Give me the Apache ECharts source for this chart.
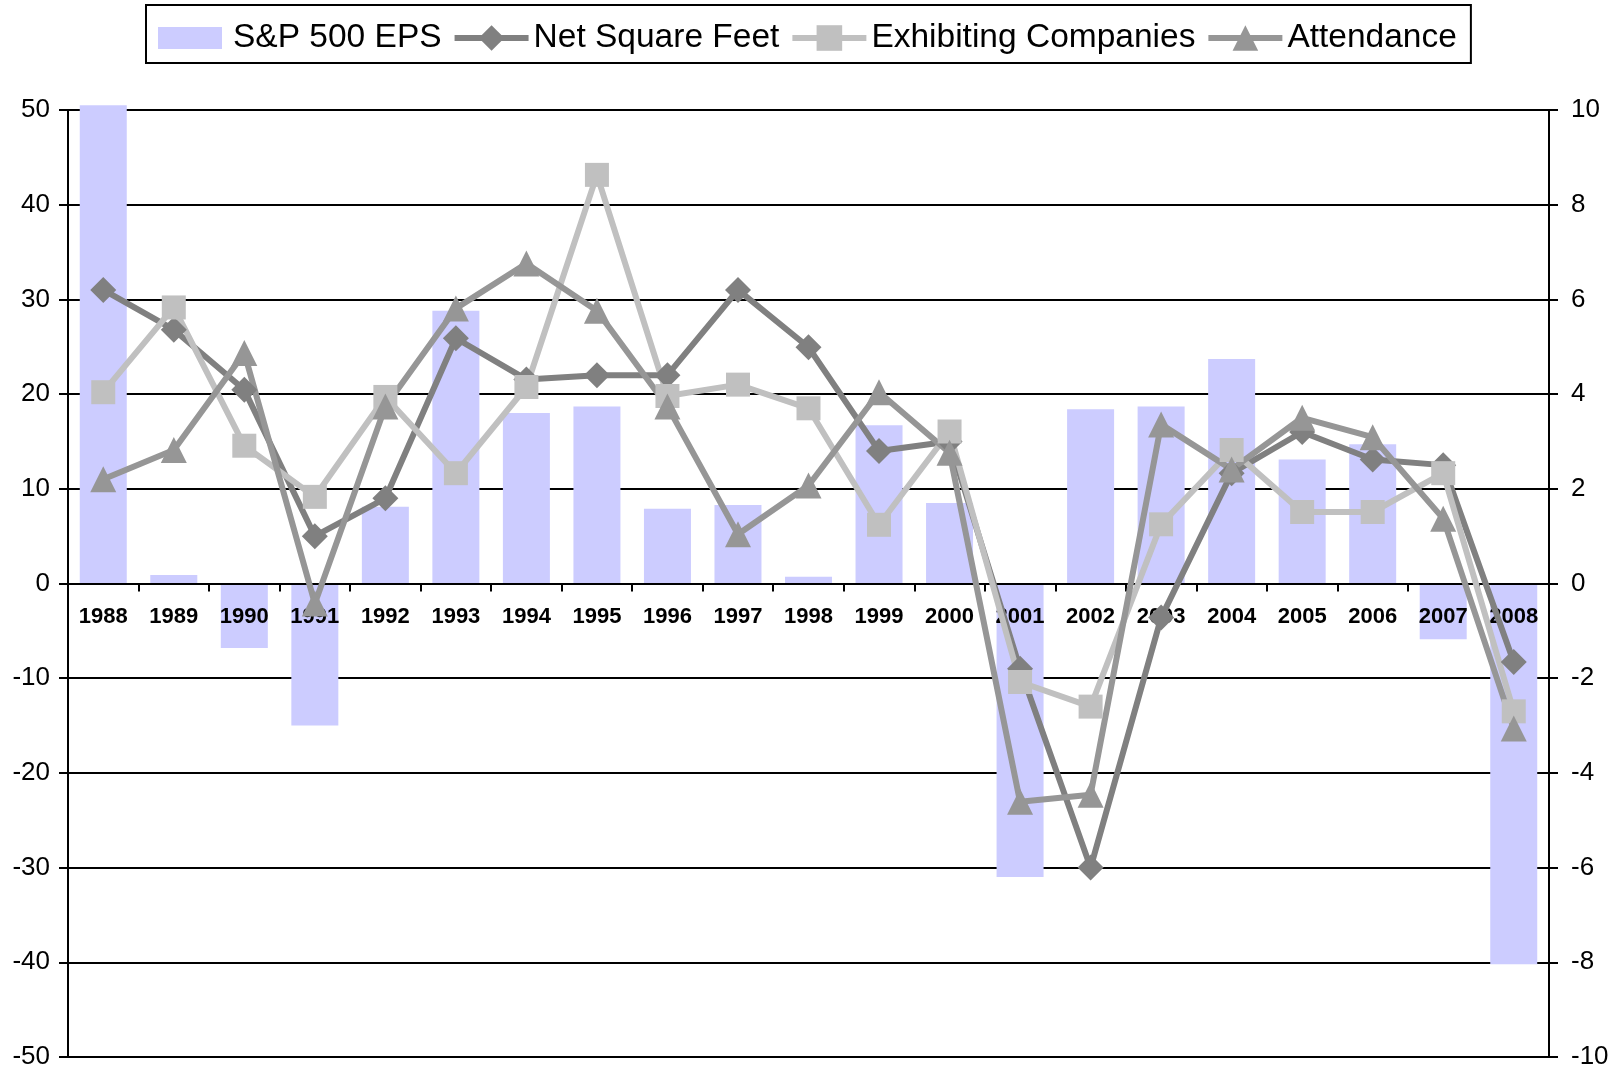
<!DOCTYPE html>
<html>
<head>
<meta charset="utf-8">
<script src="https://cdn.jsdelivr.net/npm/echarts@6/dist/echarts.min.js"></script>
<style>
html,body{margin:0;padding:0;background:#fff;}
#chart{width:1623px;height:1071px;}
</style>
</head>
<body>
<div id="chart"></div>
<script>
const years = ['1988','1989','1990','1991','1992','1993','1994','1995','1996','1997','1998','1999','2000','2001','2002','2003','2004','2005','2006','2007','2008'];
// S&P 500 EPS growth (left axis)
const spEPS = [50.5, 0.9, -6.8, -15.0, 8.1, 28.8, 18.0, 18.7, 7.9, 8.3, 0.7, 16.7, 8.5, -31.0, 18.4, 18.7, 23.7, 13.1, 14.7, -5.9, -40.2];
// Trade show measures (right axis)
const netSquareFeet = [6.2, 5.36, 4.09, 1.0, 1.8, 5.18, 4.31, 4.4, 4.4, 6.2, 4.99, 2.8, 3.0, -1.8, -6.0, -0.72, 2.33, 3.2, 2.62, 2.5, -1.66];
const exhibitingCompanies = [4.04, 5.83, 2.91, 1.83, 3.94, 2.33, 4.15, 8.63, 3.96, 4.2, 3.7, 1.24, 3.21, -2.08, -2.6, 1.25, 2.82, 1.51, 1.51, 2.33, -2.7];
const attendance = [2.2, 2.82, 4.87, -0.42, 3.74, 5.81, 6.76, 5.76, 3.74, 1.04, 2.07, 4.04, 2.76, -4.61, -4.46, 3.36, 2.41, 3.5, 3.09, 1.37, -3.06];
const leftTicks = {min: -50, max: 50, interval: 10};
const rightTicks = {min: -10, max: 10, interval: 2};

const FONT = '"Liberation Sans", Arial, sans-serif';
const GRID = {left: 68, right: 74, top: 110, bottom: 14};
const plotH = 1071 - GRID.top - GRID.bottom;
const zeroFromBottom = plotH * (0 - leftTicks.min) / (leftTicks.max - leftTicks.min);

const chart = echarts.init(document.getElementById('chart'), null, {renderer: 'canvas'});
const lineCommon = (name, data, color, symbol, size) => ({
  name, type: 'line', yAxisIndex: 1, data, clip: false, z: 5,
  symbol, symbolSize: size,
  lineStyle: {color, width: 6},
  itemStyle: {color},
  emphasis: {disabled: true},
  animation: false
});
chart.setOption({
  animation: false,
  textStyle: {fontFamily: FONT},
  legend: {
    top: 5, left: 146,
    padding: [16, 14, 8, 8],
    borderColor: '#000', borderWidth: 2,
    itemWidth: 74, itemHeight: 32, itemGap: 10,
    lineStyle: {width: 6},
    textStyle: {fontSize: 33.5, color: '#000', fontFamily: FONT},
    data: [
      {name: 'S&P 500 EPS', icon: 'path://M0,0 L0,0 M4,5 L68,5 L68,27 L4,27 Z M74,32 L74,32'},
      'Net Square Feet', 'Exhibiting Companies', 'Attendance'
    ]
  },
  grid: {left: GRID.left, right: GRID.right, top: GRID.top, bottom: GRID.bottom, containLabel: false, outerBoundsMode: 'none'},
  xAxis: {
    type: 'category', data: years, boundaryGap: true,
    position: 'bottom',
    offset: -zeroFromBottom,
    z: 3,
    axisLine: {onZero: false, lineStyle: {color: '#000', width: 2}},
    axisTick: {show: true, length: 8, lineStyle: {color: '#000', width: 2}, alignWithLabel: false},
    axisLabel: {fontSize: 22, fontWeight: 'bold', color: '#000', margin: 22, fontFamily: FONT, interval: 0},
    splitLine: {show: false}
  },
  yAxis: [
    {
      type: 'value', min: leftTicks.min, max: leftTicks.max, interval: leftTicks.interval,
      axisLine: {show: true, onZero: false, lineStyle: {color: '#000', width: 2}},
      axisTick: {show: true, length: 9, lineStyle: {color: '#000', width: 2}},
      axisLabel: {fontSize: 26, color: '#000', margin: 18, fontFamily: FONT},
      splitLine: {show: true, lineStyle: {color: '#000', width: 2}}
    },
    {
      type: 'value', min: rightTicks.min, max: rightTicks.max, interval: rightTicks.interval,
      position: 'right',
      axisLine: {show: true, onZero: false, lineStyle: {color: '#000', width: 2}},
      axisTick: {show: true, length: 9, lineStyle: {color: '#000', width: 2}},
      axisLabel: {fontSize: 26, color: '#000', margin: 22, fontFamily: FONT},
      splitLine: {show: false}
    }
  ],
  series: [
    {
      name: 'S&P 500 EPS', type: 'bar', yAxisIndex: 0, data: spEPS,
      barWidth: 47, clip: false, z: 2,
      itemStyle: {color: '#CCCCFF'},
      emphasis: {disabled: true}
    },
    lineCommon('Net Square Feet', netSquareFeet, '#808080', 'diamond', 26),
    lineCommon('Exhibiting Companies', exhibitingCompanies, '#C0C0C0', 'rect', 24),
    lineCommon('Attendance', attendance, '#969696', 'triangle', 26)
  ]
});
</script>
</body>
</html>
